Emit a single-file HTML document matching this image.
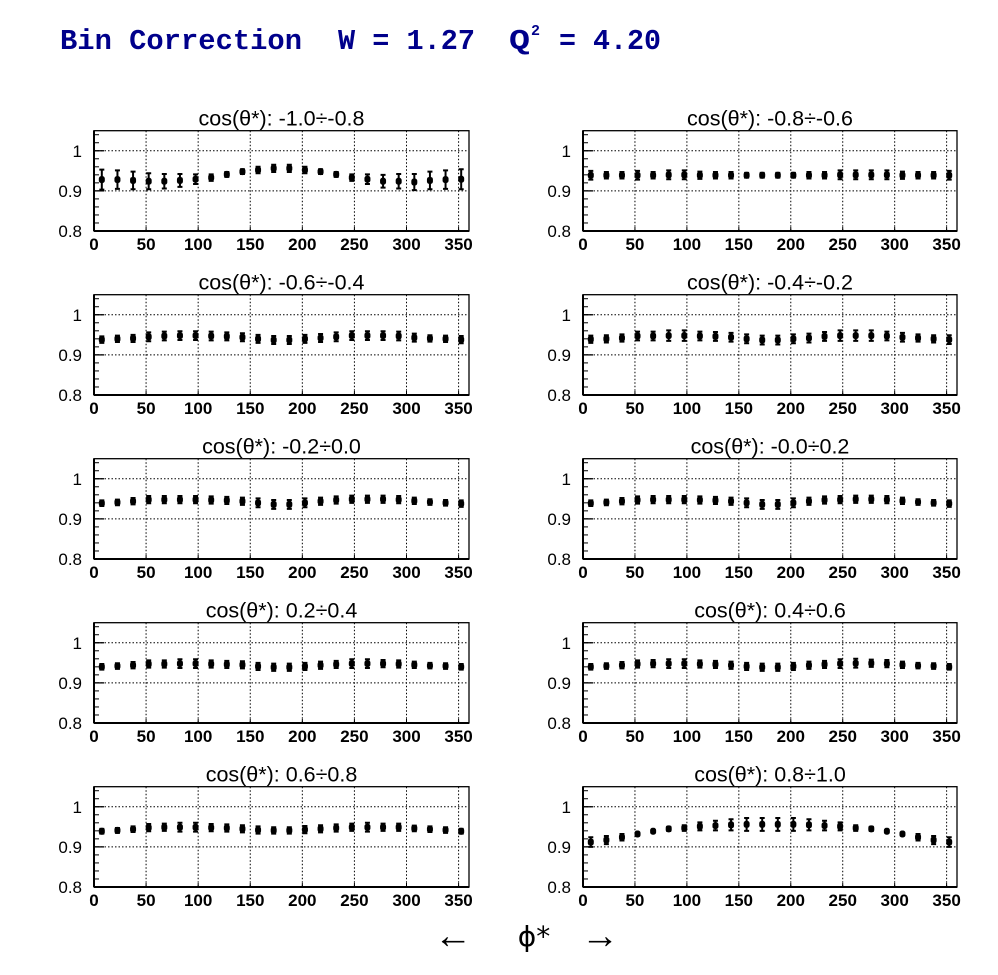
<!DOCTYPE html>
<html><head><meta charset="utf-8">
<style>
html,body{margin:0;padding:0;background:#fff;}
svg{display:block;}
.tk{font-family:"Liberation Sans",sans-serif;font-size:17px;fill:#000;}
.tx{font-family:"Liberation Sans",sans-serif;font-size:17px;font-weight:bold;fill:#000;}
.pt{font-family:"Liberation Sans","DejaVu Sans",sans-serif;font-size:21.5px;fill:#000;}
</style></head>
<body>
<svg id="chart" width="998" height="975" viewBox="0 0 998 975" xmlns="http://www.w3.org/2000/svg">
<text x="60" y="49" font-family="Liberation Mono, monospace" font-weight="bold" font-size="29" fill="#00008b" textLength="242" lengthAdjust="spacingAndGlyphs">Bin Correction</text>
<text x="338" y="49" font-family="Liberation Mono, monospace" font-weight="bold" font-size="29" fill="#00008b" textLength="137" lengthAdjust="spacingAndGlyphs">W = 1.27</text>
<text x="509" y="49" font-family="Liberation Mono, monospace" font-weight="bold" font-size="29" fill="#00008b" textLength="21" lengthAdjust="spacingAndGlyphs">Q</text>
<text x="531" y="35" font-family="Liberation Mono, monospace" font-weight="bold" font-size="15" fill="#00008b">2</text>
<text x="559" y="49" font-family="Liberation Mono, monospace" font-weight="bold" font-size="29" fill="#00008b" textLength="102" lengthAdjust="spacingAndGlyphs">= 4.20</text>
<g id="panels"></g>
<text x="453" y="948" text-anchor="middle" font-family="Liberation Serif, DejaVu Serif, serif" font-size="38" fill="#000">←</text>
<text x="534" y="946" text-anchor="middle" font-family="DejaVu Sans, Liberation Serif, serif" font-size="28" fill="#000">ϕ*</text>
<text x="600" y="948" text-anchor="middle" font-family="Liberation Serif, DejaVu Serif, serif" font-size="38" fill="#000">→</text>
</svg>
<script>
const phiCenters = [7.5,22.5,37.5,52.5,67.5,82.5,97.5,112.5,127.5,142.5,157.5,172.5,187.5,202.5,217.5,232.5,247.5,262.5,277.5,292.5,307.5,322.5,337.5,352.5];
const panelTitles = ["cos(θ*): -1.0÷-0.8","cos(θ*): -0.8÷-0.6","cos(θ*): -0.6÷-0.4","cos(θ*): -0.4÷-0.2","cos(θ*): -0.2÷0.0","cos(θ*): -0.0÷0.2","cos(θ*): 0.2÷0.4","cos(θ*): 0.4÷0.6","cos(θ*): 0.6÷0.8","cos(θ*): 0.8÷1.0"];
const xTicks = [0,50,100,150,200,250,300,350];
const yTicks = [0.8,0.9,1.0];
const yTickLabels = ["0.8","0.9","1"];
const v1 = [0.928,0.928,0.926,0.924,0.924,0.926,0.929,0.933,0.941,0.948,0.952,0.956,0.956,0.952,0.948,0.941,0.933,0.929,0.924,0.924,0.922,0.926,0.928,0.929];
const e1 = [0.025,0.023,0.022,0.020,0.018,0.016,0.012,0.008,0.006,0.006,0.008,0.009,0.009,0.008,0.006,0.006,0.008,0.012,0.016,0.018,0.020,0.022,0.023,0.025];
const v2 = [0.939,0.939,0.939,0.939,0.939,0.940,0.940,0.939,0.939,0.939,0.939,0.939,0.939,0.939,0.939,0.939,0.940,0.940,0.940,0.940,0.939,0.939,0.939,0.939];
const e2 = [0.011,0.008,0.008,0.011,0.008,0.011,0.011,0.009,0.008,0.008,0.006,0.006,0.006,0.006,0.008,0.008,0.011,0.011,0.011,0.011,0.009,0.008,0.008,0.011];
const v3 = [0.938,0.940,0.941,0.945,0.947,0.948,0.948,0.947,0.946,0.944,0.940,0.937,0.937,0.940,0.942,0.945,0.948,0.948,0.948,0.947,0.943,0.941,0.940,0.938];
const e3 = [0.008,0.008,0.009,0.011,0.011,0.011,0.011,0.011,0.010,0.010,0.010,0.010,0.010,0.010,0.010,0.011,0.011,0.011,0.011,0.011,0.010,0.008,0.008,0.009];
const v4 = [0.939,0.940,0.942,0.947,0.947,0.948,0.948,0.947,0.946,0.944,0.940,0.937,0.937,0.940,0.942,0.946,0.948,0.948,0.948,0.947,0.944,0.942,0.940,0.938];
const e4 = [0.009,0.009,0.009,0.011,0.011,0.013,0.013,0.011,0.011,0.011,0.011,0.011,0.011,0.011,0.011,0.011,0.013,0.013,0.013,0.011,0.011,0.009,0.009,0.011];
const v5 = [0.939,0.941,0.944,0.948,0.948,0.948,0.948,0.947,0.946,0.944,0.940,0.936,0.936,0.940,0.944,0.947,0.949,0.949,0.949,0.948,0.945,0.942,0.940,0.938];
const e5 = [0.007,0.007,0.008,0.009,0.009,0.009,0.009,0.009,0.009,0.009,0.011,0.011,0.011,0.011,0.009,0.009,0.009,0.009,0.009,0.009,0.008,0.007,0.007,0.008];
const v6 = [0.939,0.941,0.944,0.947,0.948,0.948,0.948,0.947,0.946,0.944,0.940,0.936,0.936,0.940,0.944,0.947,0.948,0.949,0.949,0.948,0.945,0.942,0.940,0.938];
const e6 = [0.007,0.007,0.008,0.009,0.009,0.009,0.009,0.009,0.009,0.009,0.011,0.011,0.011,0.011,0.009,0.009,0.009,0.009,0.009,0.009,0.008,0.007,0.007,0.008];
const v7 = [0.940,0.942,0.944,0.947,0.947,0.948,0.948,0.947,0.946,0.945,0.941,0.939,0.939,0.941,0.944,0.946,0.948,0.948,0.948,0.947,0.945,0.943,0.942,0.940];
const e7 = [0.007,0.007,0.008,0.009,0.009,0.011,0.011,0.009,0.009,0.009,0.009,0.009,0.009,0.009,0.009,0.009,0.011,0.011,0.009,0.009,0.008,0.007,0.007,0.007];
const v8 = [0.940,0.942,0.944,0.947,0.948,0.948,0.948,0.947,0.946,0.944,0.941,0.939,0.939,0.941,0.944,0.946,0.948,0.949,0.949,0.948,0.945,0.943,0.942,0.940];
const e8 = [0.007,0.007,0.008,0.009,0.009,0.011,0.011,0.009,0.009,0.009,0.009,0.009,0.009,0.009,0.009,0.009,0.011,0.011,0.009,0.009,0.008,0.007,0.007,0.007];
const v9 = [0.939,0.941,0.944,0.948,0.949,0.949,0.949,0.948,0.947,0.945,0.942,0.941,0.941,0.943,0.945,0.947,0.949,0.949,0.949,0.949,0.946,0.944,0.942,0.939];
const e9 = [0.006,0.006,0.007,0.009,0.009,0.011,0.011,0.009,0.009,0.009,0.009,0.008,0.008,0.009,0.009,0.009,0.009,0.011,0.009,0.009,0.007,0.007,0.007,0.006];
const v10 = [0.912,0.917,0.924,0.932,0.939,0.945,0.947,0.951,0.953,0.955,0.956,0.956,0.956,0.956,0.955,0.953,0.951,0.947,0.945,0.939,0.932,0.924,0.917,0.912];
const e10 = [0.012,0.010,0.008,0.003,0.003,0.005,0.007,0.010,0.012,0.014,0.016,0.016,0.016,0.016,0.014,0.012,0.010,0.007,0.005,0.003,0.003,0.008,0.010,0.012];
const seriesValues = [v1,v2,v3,v4,v5,v6,v7,v8,v9,v10];
const seriesErrors = [e1,e2,e3,e4,e5,e6,e7,e8,e9,e10];

const NS = "http://www.w3.org/2000/svg";
const root = document.getElementById("panels");
function mk(tag, attrs, parent){
  const el = document.createElementNS(NS, tag);
  for (const k in attrs) el.setAttribute(k, attrs[k]);
  parent.appendChild(el);
  return el;
}
const X0 = [94, 583], W = [375, 374];
const Y0 = 130.7, H = 100.3, ROWSTEP = 164;
const YMIN = 0.8, YMAX = 1.05, XMIN = 0, XMAX = 360;

for (let p = 0; p < 10; p++){
  const col = p % 2, row = Math.floor(p / 2);
  const left = X0[col], width = W[col], top = Y0 + row * ROWSTEP;
  const xs = v => left + (v - XMIN) / (XMAX - XMIN) * width;
  const ys = v => top + H - (v - YMIN) / (YMAX - YMIN) * H;
  const g = mk("g", {}, root);
  
  

  const t = mk("text", {x: left + width / 2, y: top - 5, "text-anchor": "middle", class: "pt"}, g);
  
  
  t.textContent = panelTitles[p];

  xTicks.forEach(v => {
    if (v === 0) return;
    const l = mk("line", {x1: xs(v), x2: xs(v), y1: top, y2: top + H, stroke: "#000", "stroke-width": 1, "stroke-dasharray": "1.5,2"}, g);
    
    
  });
  [0.9, 1.0].forEach(v => {
    const l = mk("line", {x1: left, x2: left + width, y1: ys(v), y2: ys(v), stroke: "#000", "stroke-width": 1, "stroke-dasharray": "1.5,2"}, g);
    
    
  });

  const fr = mk("rect", {x: left, y: top, width: width, height: H, fill: "none", stroke: "#000", "stroke-width": 1.3}, g);
  
  
  mk("line", {x1: left, x2: left + width, y1: top + H, y2: top + H, stroke: "#000", "stroke-width": 2}, g);
  mk("line", {x1: left, x2: left, y1: top, y2: top + H, stroke: "#000", "stroke-width": 2}, g);

  for (let k = 0; k <= 12; k++){
    const v = 0.8 + k * 0.02;
    if (v > YMAX + 1e-9) break;
    mk("line", {x1: left, x2: left + 5, y1: ys(v), y2: ys(v), stroke: "#000", "stroke-width": 1}, g);
  }
  yTicks.forEach((v, i) => {
    mk("line", {x1: left, x2: left + 10, y1: ys(v), y2: ys(v), stroke: "#000", "stroke-width": 1.3}, g);
    const tl = mk("text", {x: left - 12, y: ys(v) + 6, "text-anchor": "end", class: "tk"}, g);
    
    
    tl.textContent = yTickLabels[i];
  });
  xTicks.forEach(v => {
    mk("line", {x1: xs(v), x2: xs(v), y1: top + H, y2: top + H - 4, stroke: "#000", "stroke-width": 1}, g);
    const tl = mk("text", {x: xs(v), y: top + H + 19, "text-anchor": "middle", class: "tx"}, g);
    
    
    tl.textContent = String(v);
  });

  const vals = seriesValues[p], errs = seriesErrors[p];
  phiCenters.forEach((phi, i) => {
    const cx = xs(phi), cy = ys(vals[i]);
    const y1 = ys(vals[i] + errs[i]), y2 = ys(vals[i] - errs[i]);
    const eb = mk("path", {d: `M${cx},${y1}V${y2}M${cx-2.5},${y1}H${cx+2.5}M${cx-2.5},${y2}H${cx+2.5}`, stroke: "#000", "stroke-width": 2, fill: "none"}, g);
    
    
    const m = mk("rect", {x: cx - 3, y: cy - 3.5, width: 6, height: 7, rx: 2.5, fill: "#000"}, g);
    
    
  });
}
</script>
</body></html>
